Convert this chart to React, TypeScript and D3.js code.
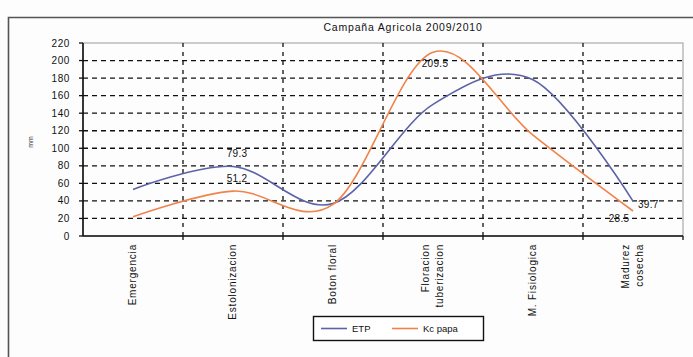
import React from "react";
import * as d3 from "d3";

const categories: string[][] = [
  ["Emergencia"],
  ["Estolonizacion"],
  ["Boton floral"],
  ["Floracion", "tuberizacion"],
  ["M. Fisiologica"],
  ["Madurez", "cosecha"],
];
const etp: number[] = [53, 79.3, 37, 150, 178, 39.7];
const kcPapa: number[] = [22, 51.2, 36, 209.5, 115, 28.5];
const yTicks: number[] = [0, 20, 40, 60, 80, 100, 120, 140, 160, 180, 200, 220];
const seriesNames: string[] = ["ETP", "Kc papa"];
const seriesColors: string[] = ["#5b63a6", "#f0834a"];
// labelled points: [seriesIndex, pointIndex, placement]
const labelled: [number, number, string][] = [
  [0, 1, "above"],
  [1, 1, "above"],
  [1, 3, "below"],
  [0, 5, "right"],
  [1, 5, "belowLeft"],
];
const title = "Campaña Agricola 2009/2010";
const yTitle = "mm";

const W = 693;
const H = 357;
const plot = { left: 83, right: 683, top: 43, bottom: 236 };
const FONT = "'Liberation Sans', Arial, sans-serif";

export default function App() {
  const x = d3
    .scaleBand<number>()
    .domain(categories.map((_, i) => i))
    .range([plot.left, plot.right]);
  const y = d3.scaleLinear().domain([0, 220]).range([plot.bottom, plot.top]);
  const cx = (i: number) => (x(i) as number) + x.bandwidth() / 2;
  const line = d3
    .line<number>()
    .x((_, i) => cx(i))
    .y((d) => y(d))
    .curve(d3.curveCardinal.tension(0));
  const series = [etp, kcPapa];
  const boundaries = categories.map((_, i) => (x(i) as number)).slice(1);

  const labelOffset = (p: string) => {
    switch (p) {
      case "above":
        return { dx: 4, dy: -13, anchor: "middle" };
      case "below":
        return { dx: 2, dy: 11, anchor: "middle" };
      case "right":
        return { dx: 5, dy: 3, anchor: "start" };
      case "belowLeft":
        return { dx: -14, dy: 8, anchor: "middle" };
      default:
        return { dx: 0, dy: 0, anchor: "middle" };
    }
  };

  return (
    <svg
      width={W}
      height={H}
      style={{ position: "absolute", left: 0, top: 0, background: "#fff" }}
    >
      <rect x={0} y={0} width={W} height={H} fill="#fdfdfd" />
      {/* outer frame */}
      <path d={`M8.5,${H} V17.5 H${W}`} fill="none" stroke="#555" strokeWidth={1.6} />
      {/* title */}
      <text
        x={403}
        y={31}
        textAnchor="middle"
        fontFamily={FONT}
        fontSize={10.5}
        letterSpacing={0.8}
        fill="#111"
      >
        {title}
      </text>
      {/* plot border */}
      <rect
        x={plot.left}
        y={plot.top}
        width={plot.right - plot.left}
        height={plot.bottom - plot.top}
        fill="none"
        stroke="#999"
        strokeWidth={1}
      />
      {/* horizontal grid */}
      {yTicks
        .filter((t) => t > 0 && t < 220)
        .map((t) => (
          <line
            key={"hg" + t}
            x1={plot.left}
            x2={plot.right}
            y1={y(t)}
            y2={y(t)}
            stroke="#111"
            strokeWidth={1.3}
            strokeDasharray="5,4"
          />
        ))}
      {/* vertical grid */}
      {boundaries.map((bx, i) => (
        <line
          key={"vg" + i}
          x1={bx}
          x2={bx}
          y1={plot.top}
          y2={plot.bottom}
          stroke="#111"
          strokeWidth={1.3}
          strokeDasharray="4,5"
        />
      ))}
      {/* axes */}
      <line x1={plot.left} x2={plot.left} y1={plot.top} y2={plot.bottom} stroke="#111" strokeWidth={1.6} />
      <line x1={plot.left} x2={plot.right} y1={plot.bottom} y2={plot.bottom} stroke="#111" strokeWidth={1.6} />
      {yTicks.map((t) => (
        <g key={"yt" + t}>
          <line x1={plot.left - 4} x2={plot.left} y1={y(t)} y2={y(t)} stroke="#111" strokeWidth={1.3} />
          <text
            x={plot.left - 13}
            y={y(t) + 3.5}
            textAnchor="end"
            fontFamily={FONT}
            fontSize={10}
            letterSpacing={0.6}
            fill="#111"
          >
            {t}
          </text>
        </g>
      ))}
      {[...boundaries, plot.right].map((bx, i) => (
        <line key={"xt" + i} x1={bx} x2={bx} y1={plot.bottom} y2={plot.bottom + 4} stroke="#111" strokeWidth={1.3} />
      ))}
      {/* y title */}
      <text
        transform={`translate(33,142) rotate(-90)`}
        textAnchor="middle"
        fontFamily={FONT}
        fontSize={7}
        fill="#333"
      >
        {yTitle}
      </text>
      {/* category labels */}
      {categories.map((lines, i) => (
        <g key={"cat" + i}>
          {lines.map((ln, j) => (
            <text
              key={j}
              transform={`translate(${cx(i) + 3 + (j - (lines.length - 1) / 2) * 14},${plot.bottom + 8}) rotate(-90)`}
              textAnchor="end"
              fontFamily={FONT}
              fontSize={10}
              letterSpacing={0.8}
              fill="#111"
            >
              {ln}
            </text>
          ))}
        </g>
      ))}
      {/* lines */}
      {series.map((s, k) => (
        <path
          key={"s" + k}
          d={line(s) || ""}
          fill="none"
          stroke={seriesColors[k]}
          strokeWidth={1.6}
        />
      ))}
      {/* data labels */}
      {labelled.map(([si, pi, pos], k) => {
        const o = labelOffset(pos);
        const v = series[si][pi];
        return (
          <text
            key={"dl" + k}
            x={cx(pi) + o.dx}
            y={y(v) + o.dy + 3.5}
            textAnchor={o.anchor}
            fontFamily={FONT}
            fontSize={10}
            letterSpacing={0.3}
            fill="#111"
          >
            {String(v)}
          </text>
        );
      })}
      {/* legend */}
      <rect x={313.5} y={316.5} width={170} height={24} fill="#fff" stroke="#111" strokeWidth={1.4} />
      {seriesNames.map((n, k) => {
        const lx = k === 0 ? 321 : 392;
        return (
          <g key={"lg" + k}>
            <line x1={lx} x2={lx + 26} y1={328.5} y2={328.5} stroke={seriesColors[k]} strokeWidth={1.6} />
            <text x={lx + 31} y={332} fontFamily={FONT} fontSize={9.5} fill="#111">
              {n}
            </text>
          </g>
        );
      })}
    </svg>
  );
}
